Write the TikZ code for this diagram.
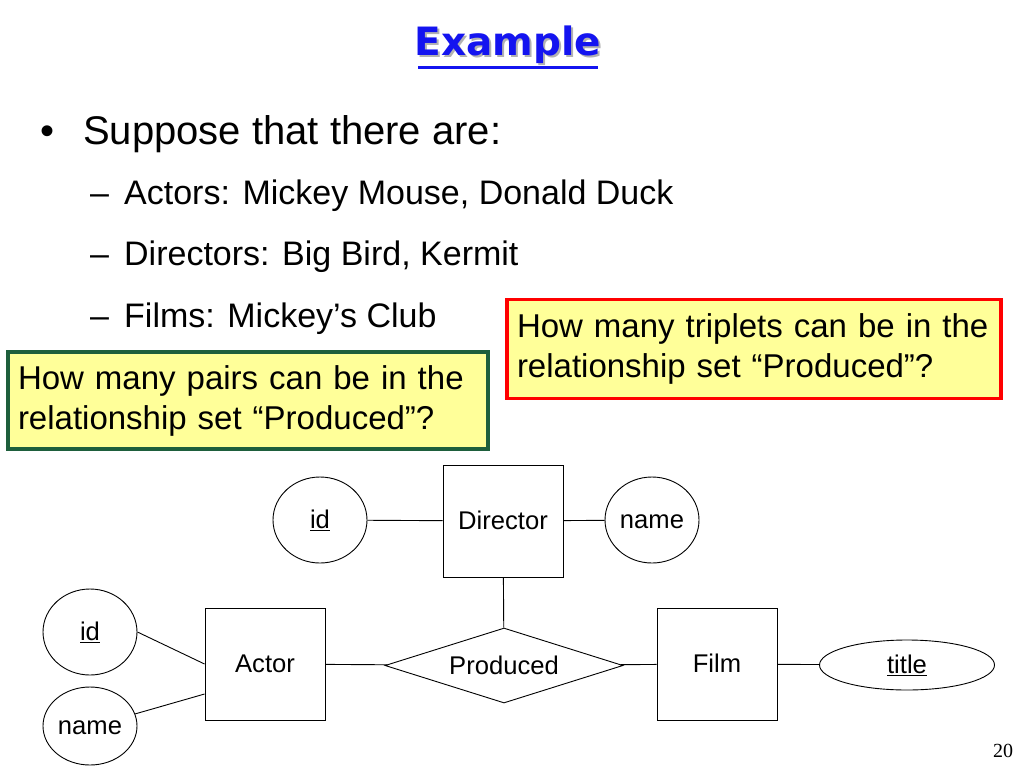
\documentclass[tikz,border=0pt]{standalone}
\usepackage{fontspec}
\setmainfont{Liberation Sans}
\newfontfamily\numfont{Liberation Serif}
\newfontfamily\headfont{DejaVu Sans}
\usetikzlibrary{positioning,shapes.geometric}

\definecolor{notefill}{RGB}{255,255,153}
\definecolor{notegreen}{RGB}{30,95,60}
\definecolor{headblue}{RGB}{20,20,240}

\begin{document}
\begin{tikzpicture}[x=1pt,y=-1pt]
        \tikzstyle{entity}
	  =[draw, rectangle, line width=0.9pt, minimum width=120pt,
	  minimum height=112pt, text height=18.5pt, text depth=1pt,
	  font=\fontsize{25.6}{30}\selectfont]
        \tikzstyle{attrib}
	  =[draw, ellipse, line width=0.9pt, inner sep=0pt,
	  minimum width=94pt, minimum height=86pt, text height=18.5pt,
	  text depth=1pt, font=\fontsize{25.6}{30}\selectfont]
        \tikzstyle{rel}
	  =[draw, diamond, line width=0.9pt, inner sep=0pt, aspect=3.2,
	  minimum width=238pt, minimum height=75pt, text height=18.5pt,
	  text depth=1pt, font=\fontsize{25.6}{30}\selectfont]
        \tikzstyle{note}
	  =[rectangle, fill=notefill, line width=3.5pt, inner xsep=10pt,
	  inner ysep=0pt, align=left, font=\fontsize{33}{40}\selectfont]
        \tikzstyle{lvlone}
	  =[anchor=base west, inner sep=0pt, font=\fontsize{40}{48}\selectfont]
        \tikzstyle{lvltwo}
	  =[anchor=base west, inner sep=0pt, font=\fontsize{34}{40}\selectfont]
        \tikzstyle{link}
	  =[line width=0.9pt]

	\useasboundingbox (0,0) rectangle (1024,768);

	% heading
	\node[font=\headfont\bfseries\fontsize{39}{44}\selectfont, text=black!30]
	  at (510,47) {Example};
	\node[font=\headfont\bfseries\fontsize{39}{44}\selectfont, text=headblue] (head)
	  at (508,45) {Example};
	\draw[headblue, line width=3pt] (418,67) -- (598,67);

	% bullets
	\node[lvlone] (dot)
	  at (40,144) {•};
	\node[lvlone] (sup)
	  at (83,144) {Suppose that there are:};
	\node[lvltwo] (act)
	  at (90,204) {–\, Actors: Mickey Mouse, Donald Duck};
	\node[lvltwo] (dir)
	  at (90,265) {–\, Directors: Big Bird, Kermit};
	\node[lvltwo] (fil)
	  at (90,327) {–\, Films: Mickey’s Club};

	% questions
	\node[note, draw=red, minimum width=494pt, minimum height=99pt,
	  text width=474pt] (triq)
	  at (754,349) {How many triplets can be in the\\relationship set “Produced”?};
	\node[note, draw=notegreen, minimum width=480pt, minimum height=97pt,
	  text width=460pt] (pairq)
	  at (248,400.5) {How many pairs can be in the\\relationship set “Produced”?};

	% ER diagram
	\node[entity] (director)
	  at (503,521) {Director};
	\node[attrib] (did)
	  at (320,520) {\underline{id}};
	\node[attrib] (dname)
	  at (652,520) {name};
	\node[rel] (prod)
	  at (504,665.5) {Produced};
	\node[entity] (actor)
	  at (265,664) {Actor};
	\node[entity] (film)
	  at (717,664) {Film};
	\node[attrib] (aid)
	  at (90,632) {\underline{id}};
	\node[attrib, minimum height=78pt] (aname)
	  at (90,726) {name};
	\node[attrib, minimum width=175pt, minimum height=50pt] (title)
	  at (907,665) {\underline{title}};

	\draw[link] (did) -- (director);
	\draw[link] (director) -- (dname);
	\draw[link] (director) -- (prod);
	\draw[link] (actor) -- (prod);
	\draw[link] (prod) -- (film);
	\draw[link] (film) -- (title);
	\draw[link] (aid.east) -- (actor.west);
	\draw[link] (aname.15) -- ([yshift=-30pt]actor.west);

	\node[font=\numfont\fontsize{20}{24}\selectfont] (pg)
	  at (1003,751) {20};
    \end{tikzpicture}
\end{document}
